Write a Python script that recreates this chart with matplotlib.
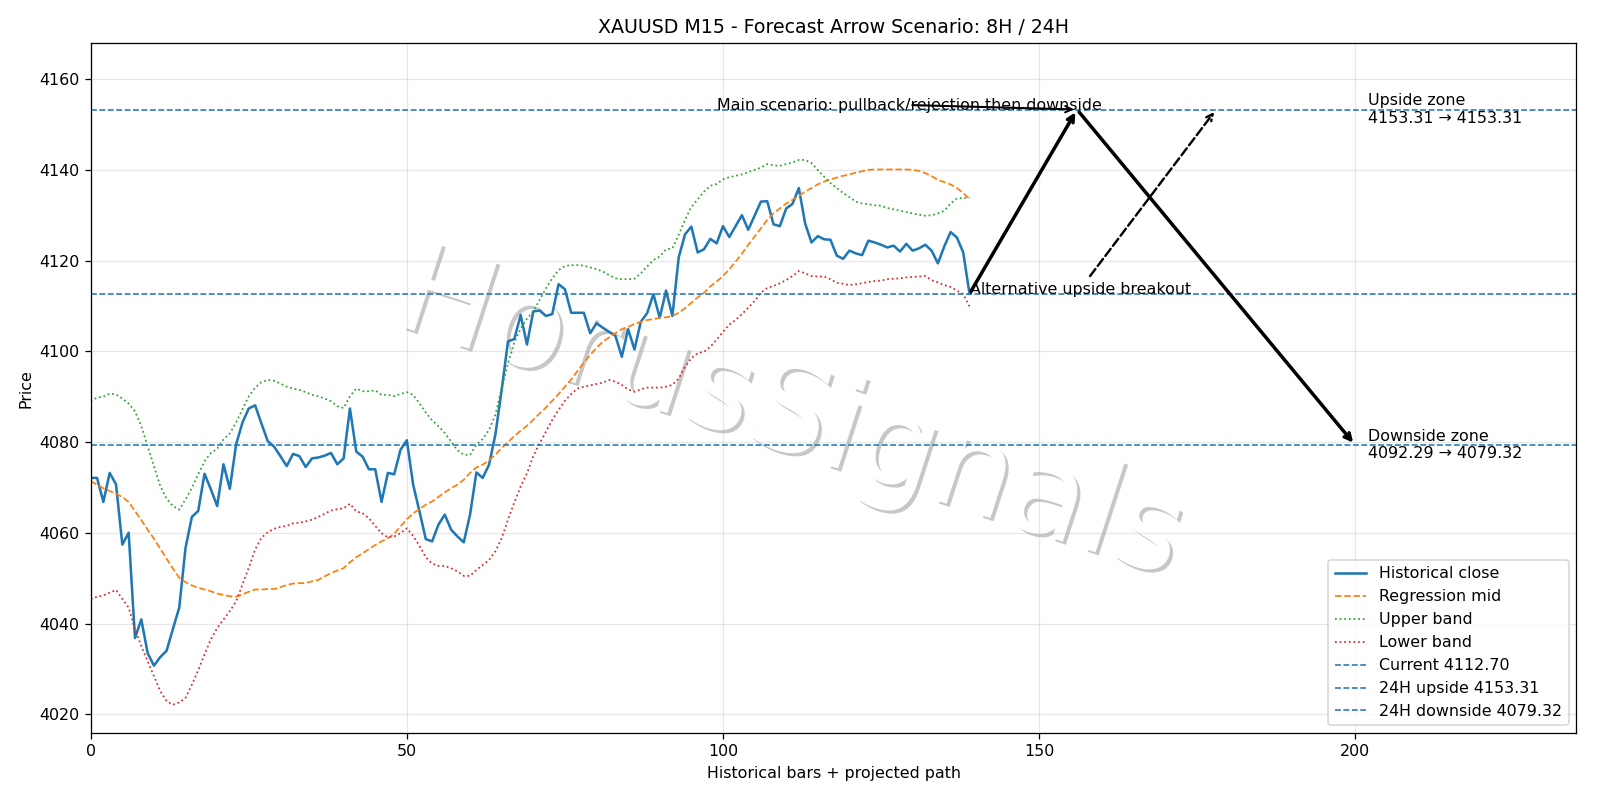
#%%
import numpy as np
import matplotlib
matplotlib.use("Agg")
import matplotlib.pyplot as plt
import matplotlib.patheffects as pe

#%%
# XAUUSD M15 closes + regression channel
close = [4072.1, 4072.1, 4066.8, 4073.2, 4070.7, 4057.4, 4060.0, 4036.8, 4040.9, 4033.5,
         4030.7, 4032.6, 4034.0, 4038.8, 4043.5, 4056.7, 4063.5, 4064.8, 4073.0, 4069.6,
         4065.9, 4075.1, 4069.7, 4079.5, 4084.3, 4087.4, 4088.1, 4084.1, 4080.2, 4079.0,
         4076.9, 4074.7, 4077.4, 4076.9, 4074.5, 4076.4, 4076.6, 4077.0, 4077.6, 4075.1,
         4076.4, 4087.4, 4077.9, 4076.8, 4074.0, 4074.0, 4066.8, 4073.2, 4072.9, 4078.3,
         4080.4, 4070.6, 4064.7, 4058.6, 4058.1, 4061.8, 4064.0, 4060.7, 4059.2, 4057.9,
         4064.0, 4073.3, 4072.1, 4075.0, 4081.6, 4091.5, 4102.2, 4102.7, 4108.0, 4101.5,
         4108.8, 4109.0, 4107.8, 4108.2, 4114.8, 4113.7, 4108.5, 4108.5, 4108.5, 4104.0,
         4106.2, 4105.2, 4104.3, 4103.4, 4098.8, 4104.9, 4100.4, 4106.5, 4108.4, 4112.6,
         4107.4, 4113.4, 4107.8, 4120.7, 4125.8, 4127.5, 4121.8, 4122.5, 4124.8, 4123.8,
         4127.6, 4125.2, 4127.6, 4130.0, 4126.8, 4129.9, 4133.0, 4133.1, 4128.0, 4127.6,
         4131.5, 4132.5, 4136.0, 4128.2, 4124.0, 4125.4, 4124.7, 4124.6, 4121.1, 4120.4,
         4122.2, 4121.6, 4121.2, 4124.4, 4124.0, 4123.5, 4122.9, 4123.3, 4122.0, 4123.7,
         4122.2, 4122.7, 4123.5, 4122.2, 4119.4, 4123.1, 4126.3, 4125.1, 4121.8, 4112.7]

mid = [4071.4, 4070.6, 4069.8, 4069.2, 4068.6, 4067.9, 4066.8, 4064.8, 4062.8, 4060.7,
       4058.7, 4056.5, 4054.3, 4052.1, 4050.1, 4049.1, 4048.4, 4047.9, 4047.5, 4047.1,
       4046.6, 4046.3, 4046.0, 4045.9, 4046.4, 4047.0, 4047.5, 4047.5, 4047.6, 4047.6,
       4048.0, 4048.5, 4048.8, 4048.9, 4048.9, 4049.3, 4049.6, 4050.4, 4051.1, 4051.7,
       4052.2, 4053.5, 4054.6, 4055.5, 4056.4, 4057.3, 4058.1, 4058.8, 4059.8, 4061.4,
       4063.0, 4064.3, 4065.2, 4066.2, 4066.9, 4067.9, 4068.9, 4069.8, 4070.6, 4071.7,
       4073.2, 4074.4, 4075.0, 4076.0, 4077.2, 4078.7, 4080.0, 4081.3, 4082.5, 4083.6,
       4084.9, 4086.3, 4087.6, 4089.1, 4090.6, 4092.2, 4093.8, 4095.7, 4097.5, 4099.2,
       4100.8, 4102.1, 4103.1, 4104.0, 4104.9, 4105.4, 4106.0, 4106.5, 4106.9, 4107.1,
       4107.4, 4107.5, 4107.8, 4108.5, 4109.5, 4110.7, 4111.9, 4112.9, 4114.3, 4115.4,
       4116.6, 4118.1, 4119.8, 4121.5, 4123.5, 4125.3, 4127.1, 4129.0, 4130.4, 4131.5,
       4132.6, 4133.4, 4134.3, 4135.2, 4136.0, 4136.8, 4137.4, 4137.9, 4138.3, 4138.7,
       4139.0, 4139.4, 4139.7, 4140.0, 4140.1, 4140.1, 4140.1, 4140.1, 4140.1, 4140.1,
       4140.0, 4139.8, 4139.3, 4138.6, 4137.8, 4137.3, 4136.8, 4136.0, 4134.9, 4133.6]

upper = [4089.0, 4089.8, 4090.0, 4090.7, 4090.5, 4089.6, 4088.5, 4086.8, 4083.5, 4079.1,
         4074.7, 4070.3, 4067.5, 4065.9, 4065.1, 4067.4, 4069.9, 4072.9, 4075.8, 4077.6,
         4078.5, 4080.6, 4081.9, 4084.3, 4087.2, 4090.1, 4092.0, 4093.2, 4093.7, 4093.5,
         4092.9, 4092.2, 4091.8, 4091.5, 4091.0, 4090.4, 4090.1, 4089.6, 4089.0, 4087.9,
         4087.5, 4090.1, 4091.8, 4091.2, 4091.2, 4091.4, 4090.4, 4090.4, 4090.1, 4090.6,
         4091.0, 4090.4, 4088.5, 4086.5, 4084.8, 4083.5, 4082.0, 4080.1, 4078.2, 4077.2,
         4077.2, 4079.4, 4080.7, 4082.7, 4086.0, 4091.9, 4097.4, 4102.0, 4105.0, 4107.2,
         4108.8, 4111.3, 4113.9, 4116.1, 4117.9, 4118.8, 4119.0, 4119.0, 4118.9, 4118.5,
         4118.1, 4117.6, 4116.8, 4116.1, 4115.9, 4115.9, 4116.0, 4117.2, 4118.7, 4120.1,
         4120.9, 4122.5, 4122.7, 4125.7, 4129.0, 4131.8, 4133.5, 4135.2, 4136.5, 4136.9,
         4137.9, 4138.4, 4138.7, 4139.0, 4139.5, 4140.0, 4140.5, 4141.3, 4141.0, 4140.9,
         4141.3, 4141.6, 4142.2, 4142.2, 4141.5, 4140.0, 4138.5, 4137.1, 4136.0, 4134.9,
         4134.0, 4133.0, 4132.6, 4132.4, 4132.2, 4132.1, 4131.6, 4131.3, 4131.0, 4130.7,
         4130.4, 4130.1, 4129.9, 4130.0, 4130.4, 4131.0, 4132.6, 4133.7, 4133.8, 4133.8]

lower = [4045.4, 4045.9, 4046.2, 4046.8, 4047.4, 4045.4, 4043.5, 4038.7, 4035.0, 4031.7,
         4028.4, 4025.1, 4022.9, 4022.1, 4022.6, 4023.6, 4026.5, 4029.7, 4033.2, 4036.5,
         4039.0, 4040.9, 4042.7, 4044.9, 4048.6, 4052.3, 4056.3, 4058.9, 4060.1, 4060.9,
         4061.3, 4061.5, 4062.1, 4062.2, 4062.5, 4062.9, 4063.5, 4064.2, 4064.9, 4065.2,
         4065.4, 4066.4, 4064.7, 4064.3, 4063.2, 4061.5, 4059.9, 4059.0, 4059.2, 4059.9,
         4061.0, 4059.3, 4057.1, 4054.6, 4053.2, 4052.7, 4052.7, 4052.2, 4051.5, 4050.5,
         4050.5, 4051.8, 4052.9, 4054.0, 4055.9, 4058.8, 4062.9, 4066.7, 4070.2, 4073.1,
         4076.9, 4079.7, 4082.3, 4084.9, 4087.1, 4089.1, 4090.6, 4091.8, 4092.2, 4092.5,
         4092.8, 4093.1, 4093.7, 4093.3, 4092.6, 4091.6, 4091.1, 4091.6, 4092.0, 4092.0,
         4092.0, 4092.2, 4092.6, 4094.0, 4096.6, 4098.5, 4099.6, 4099.9, 4101.0, 4102.6,
         4104.3, 4105.9, 4106.9, 4108.2, 4109.6, 4111.1, 4112.9, 4114.0, 4114.4, 4115.0,
         4115.7, 4116.6, 4117.7, 4117.2, 4116.6, 4116.5, 4116.5, 4115.9, 4115.1, 4114.9,
         4114.6, 4114.8, 4115.0, 4115.3, 4115.5, 4115.6, 4115.9, 4116.0, 4116.1, 4116.3,
         4116.4, 4116.5, 4116.6, 4115.7, 4115.2, 4114.6, 4114.2, 4113.4, 4112.6, 4109.9]

current = 4112.70
up_24h = 4153.31
dn_24h = 4079.32
dn_zone_top = 4092.29

# projected path x positions (bars)
last_bar = len(close) - 1
peak_bar = 156
alt_bar = 178
target_bar = 200
horizon = 235

#%%
fig = plt.figure(figsize=(14, 7), dpi=800 / 7)
ax = fig.add_axes([0.0567, 0.0834, 0.9286, 0.863])

x = np.arange(len(close))
ax.plot(x, close, lw=1.6, label="Historical close")
ax.plot(x, mid, "--", lw=1.1, label="Regression mid")
ax.plot(x, upper, ":", lw=1.1, label="Upper band")
ax.plot(x, lower, ":", lw=1.1, label="Lower band")

ax.axhline(current, ls="--", lw=1, color="C0", label=f"Current {current:.2f}")
ax.axhline(up_24h, ls="--", lw=1, color="C0", label=f"24H upside {up_24h:.2f}")
ax.axhline(dn_24h, ls="--", lw=1, color="C0", label=f"24H downside {dn_24h:.2f}")

# main scenario: up to the upside zone, then down to the downside zone
ax.annotate("", xy=(peak_bar, up_24h), xytext=(last_bar, current),
            arrowprops=dict(arrowstyle="->", lw=2.2, color="black"))
ax.annotate("", xy=(target_bar, dn_24h), xytext=(peak_bar, up_24h),
            arrowprops=dict(arrowstyle="->", lw=2.2, color="black"))
ax.annotate("Main scenario: pullback/rejection then downside",
            xy=(peak_bar, up_24h), xytext=(99, up_24h),
            arrowprops=dict(arrowstyle="->", lw=1.3, color="black"))
ax.annotate("Alternative upside breakout",
            xy=(alt_bar, up_24h), xytext=(last_bar, current),
            arrowprops=dict(arrowstyle="->", lw=1.5, ls="--", color="black"))

ax.text(202, up_24h, f"Upside zone\n{up_24h:.2f} \u2192 {up_24h:.2f}", va="center")
ax.text(202, dn_24h, f"Downside zone\n{dn_zone_top:.2f} \u2192 {dn_24h:.2f}", va="center")

ax.set_xlim(0, horizon)
ax.set_ylim(4015.8, 4168.0)
ax.set_title("XAUUSD M15 - Forecast Arrow Scenario: 8H / 24H")
ax.set_xlabel("Historical bars + projected path")
ax.set_ylabel("Price")
ax.grid(True, alpha=0.3)
ax.legend(loc="lower right")

# watermark, sits under the grid and the lines
ax.text(0.494, 0.479, "HorusSignals", transform=fig.transFigure, fontsize=79, rotation=-18,
        ha="center", va="center", color="white", zorder=0.5,
        path_effects=[pe.withSimplePatchShadow(offset=(2, -2), shadow_rgbFace="black", alpha=0.22)])

fig.savefig("out.png", dpi=800 / 7)
